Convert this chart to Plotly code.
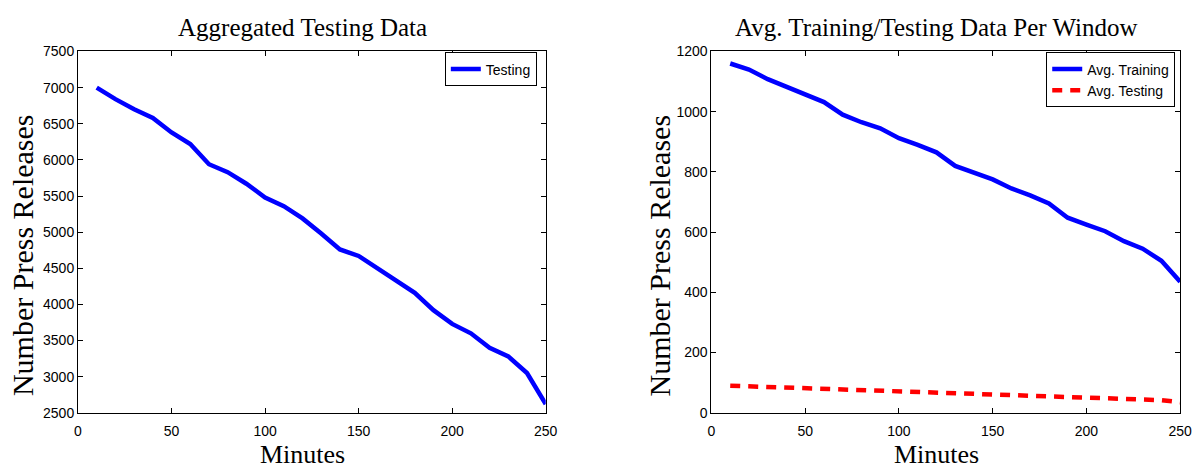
import plotly.graph_objects as go

# Window length in minutes
minutes = [10, 20, 30, 40, 50, 60, 70, 80, 90, 100, 110, 120, 130,
           140, 150, 160, 170, 180, 190, 200, 210, 220, 230, 240, 250]

# Aggregated number of testing press releases
agg_testing = [7000, 6840, 6700, 6580, 6380, 6220, 5940, 5830, 5670, 5480,
               5360, 5190, 4980, 4760, 4670, 4500, 4320, 4160, 3920, 3730,
               3600, 3400, 3280, 3050, 2620]

# Average training / testing press releases per window
avg_training = [1160, 1140, 1108, 1082, 1060, 1032, 990, 965, 945, 912,
                890, 865, 820, 798, 775, 745, 722, 695, 648, 625,
                603, 570, 545, 505, 435]
avg_testing = [90, 88, 86, 84, 82, 80, 77, 75, 73, 71,
               69, 67, 65, 62, 60, 58, 56, 54, 52, 50,
               48, 46, 44, 42, 35]

W, H = 1204, 472
SERIF = "Liberation Serif"
SANS = "Liberation Sans"


def px_x(p):
    return p / W


def px_y(p):
    return 1 - p / H


left_dom = [px_x(75), px_x(549)]
right_dom = [px_x(717), px_x(1192)]
y_dom = [px_y(419), px_y(45)]

fig = go.Figure()
fig.add_trace(go.Scatter(
    x=minutes, y=agg_testing, mode="lines", name="Testing",
    line=dict(color="#0000ff", width=4.5),
    xaxis="x", yaxis="y", legend="legend"))
fig.add_trace(go.Scatter(
    x=minutes, y=avg_training, mode="lines", name="Avg. Training",
    line=dict(color="#0000ff", width=4.5),
    xaxis="x2", yaxis="y2", legend="legend2"))
fig.add_trace(go.Scatter(
    x=minutes, y=avg_testing, mode="lines", name="Avg. Testing",
    line=dict(color="#ff0000", width=4.5, dash="10px,8px"),
    xaxis="x2", yaxis="y2", legend="legend2"))

axis_style = dict(
    showline=True, linecolor="black", linewidth=1, mirror="allticks",
    ticks="inside", ticklen=5, tickcolor="black", showgrid=False,
    zeroline=False, tickfont=dict(family=SANS, size=14, color="black"),
)

legend_style = dict(
    bordercolor="black", borderwidth=1, bgcolor="white",
    font=dict(family=SANS, size=14, color="black"),
    xanchor="right", yanchor="top", tracegroupgap=0,
)

fig.update_layout(
    width=W, height=H,
    margin=dict(l=0, r=0, t=0, b=0),
    paper_bgcolor="white", plot_bgcolor="white",
    xaxis=dict(domain=left_dom, range=[0, 250], dtick=50, anchor="y",
               ticklabelstandoff=5, **axis_style),
    yaxis=dict(domain=y_dom, range=[2500, 7500], dtick=500, anchor="x", **axis_style),
    xaxis2=dict(domain=right_dom, range=[0, 250], dtick=50, anchor="y2",
                ticklabelstandoff=5, **axis_style),
    yaxis2=dict(domain=y_dom, range=[0, 1200], dtick=200, anchor="x2", **axis_style),
    legend=dict(x=px_x(540), y=px_y(46), **legend_style),
    legend2=dict(x=px_x(1187), y=px_y(46), **legend_style),
    showlegend=True,
)

left_mid = (left_dom[0] + left_dom[1]) / 2 - px_x(9)
right_mid = (right_dom[0] + right_dom[1]) / 2 - px_x(9)
ylab_mid = px_y(256)

annotations = [
    dict(text="Aggregated Testing Data", x=left_mid, y=px_y(20),
         font=dict(family=SERIF, size=25, color="black")),
    dict(text="Avg. Training/Testing Data Per Window", x=right_mid,
         y=px_y(20), font=dict(family=SERIF, size=25, color="black")),
    dict(text="Minutes", x=left_mid, y=px_y(462),
         font=dict(family=SERIF, size=26, color="black")),
    dict(text="Minutes", x=right_mid, y=px_y(462),
         font=dict(family=SERIF, size=26, color="black")),
    dict(text="Number Press Releases", x=px_x(19), y=ylab_mid,
         textangle=-90, font=dict(family=SERIF, size=30, color="black")),
    dict(text="Number Press Releases", x=px_x(664), y=ylab_mid,
         textangle=-90, font=dict(family=SERIF, size=30, color="black")),
]
for a in annotations:
    a.update(xref="paper", yref="paper", showarrow=False,
             xanchor="center", yanchor="middle")
fig.update_layout(annotations=annotations)

fig.write_html("out.html")
